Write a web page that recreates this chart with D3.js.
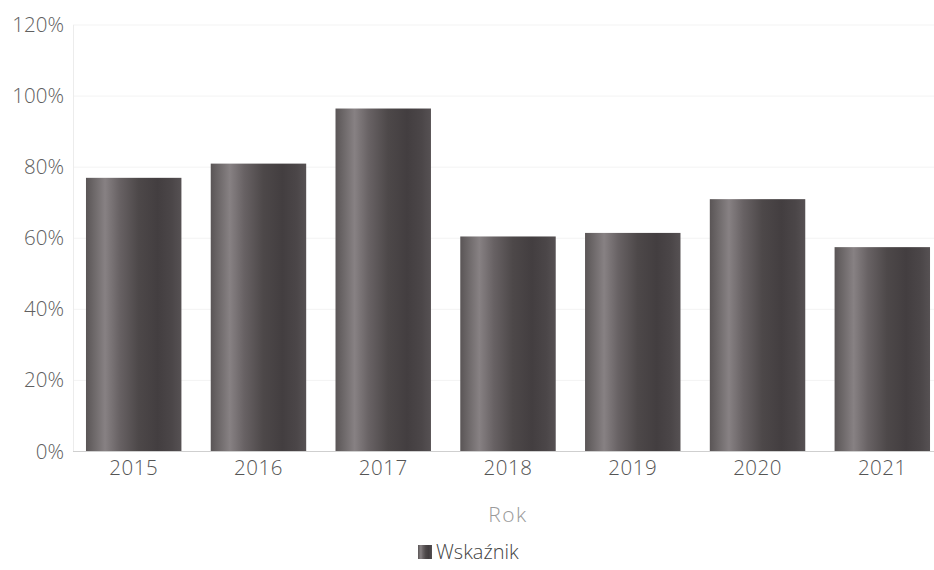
<!DOCTYPE html>
<html>
<head>
<meta charset="utf-8">
<script src="https://cdn.jsdelivr.net/npm/d3@7/dist/d3.min.js"></script>
<style>
  html, body { margin: 0; padding: 0; background: #fff; }
  svg, svg text { font-family: "Open Sans", "Noto Sans", sans-serif; font-weight: 300; }
  svg { display: block; }
</style>
</head>
<body>
<svg id="chart" width="934" height="570"></svg>
<script>
const years = ["2015", "2016", "2017", "2018", "2019", "2020", "2021"];
const values = [77, 81, 96.5, 60.5, 61.5, 71, 57.5];
const yTicks = [0, 20, 40, 60, 80, 100, 120];
const seriesName = "Wskaźnik";
const xTitle = "Rok";

(function () {
const svg = d3.select("#chart");
const W = 934;
const mLeft = 73, mRight = 943, mTop = 25, mBottom = 451.5;

const x = d3.scaleBand().domain(years).range([mLeft, mRight]).paddingInner(0.235).paddingOuter(0.104);
const y = d3.scaleLinear().domain([0, 120]).range([mBottom, mTop]);

const defs = svg.append("defs");
const grad = defs.append("linearGradient").attr("id", "barGrad")
  .attr("x1", "0%").attr("x2", "100%").attr("y1", "0%").attr("y2", "0%");
[[0, "#5a5556"], [0.08, "#6c6768"], [0.2, "#878183"], [0.35, "#686264"], [0.55, "#4d4849"], [0.75, "#433e40"], [0.9, "#4b4648"], [1, "#565153"]]
  .forEach(([o, c]) => grad.append("stop").attr("offset", o).attr("stop-color", c));

// gridlines
svg.append("g").selectAll("line").data(yTicks.filter(d => d > 0)).join("line")
  .attr("x1", mLeft).attr("x2", W)
  .attr("y1", d => y(d)).attr("y2", d => y(d))
  .attr("stroke", "#f3f3f3").attr("stroke-width", 1);

// y axis line
svg.append("line").attr("x1", mLeft + 0.5).attr("x2", mLeft + 0.5)
  .attr("y1", mTop).attr("y2", mBottom)
  .attr("stroke", "#ececec");

// y tick labels
const yAxis = d3.axisLeft(y).tickValues(yTicks).tickFormat(d => d + "%").tickSize(0).tickPadding(9);
const gy = svg.append("g").attr("transform", `translate(${mLeft},0)`).call(yAxis)
  .attr("font-family", null).attr("font-size", null);
gy.select(".domain").remove();
gy.selectAll("text").attr("fill", "#606060").style("font-size", "20.5px");

// bars
svg.append("g").selectAll("rect").data(years).join("rect")
  .attr("x", d => x(d))
  .attr("width", x.bandwidth())
  .attr("y", (d, i) => y(values[i]))
  .attr("height", (d, i) => y(0) - y(values[i]))
  .attr("fill", "url(#barGrad)");

// baseline
svg.append("line").attr("x1", mLeft).attr("x2", W)
  .attr("y1", mBottom).attr("y2", mBottom)
  .attr("stroke", "#cfcfcf").attr("stroke-width", 1.2);

// x axis labels
const xAxis = d3.axisBottom(x).tickSize(0).tickPadding(9);
const gx = svg.append("g").attr("transform", `translate(0,${mBottom})`).call(xAxis)
  .attr("font-family", null).attr("font-size", null);
gx.select(".domain").remove();
gx.selectAll("text").attr("fill", "#555").style("font-size", "20.5px").style("letter-spacing", "0.5px");

// x title
svg.append("text").attr("x", (mLeft + mRight) / 2).attr("y", 522)
  .attr("text-anchor", "middle").attr("fill", "#9a9a9a").style("font-size", "21px")
  .style("letter-spacing", "1.5px")
  .text(xTitle);

// legend
const lg = svg.append("g").attr("transform", "translate(418,545)");
lg.append("rect").attr("width", 14).attr("height", 14).attr("fill", "url(#barGrad)");
lg.append("text").attr("x", 18).attr("y", 14).attr("fill", "#444").style("font-size", "20px").text(seriesName);
})();
</script>
</body>
</html>
